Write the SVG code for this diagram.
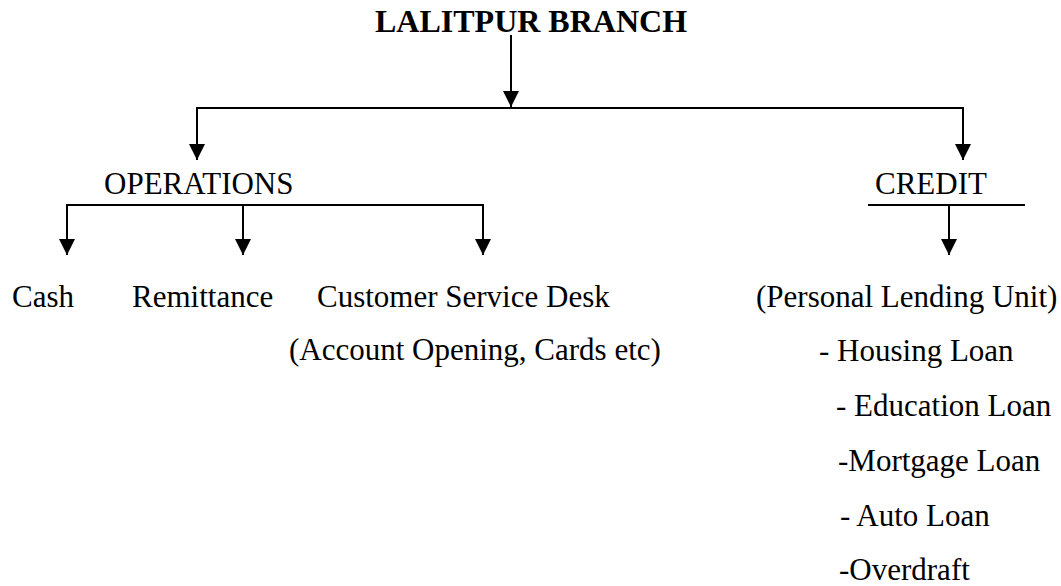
<svg xmlns="http://www.w3.org/2000/svg" width="1061" height="586" viewBox="0 0 1061 586">
<style>
text{font-family:"Liberation Serif","Times New Roman",serif;font-size:31px;fill:#000}
.title{font-weight:bold;font-size:32px}
.ln{stroke:#000;stroke-width:2;fill:none}
</style>
<defs>
<marker id="ah" markerUnits="userSpaceOnUse" markerWidth="16" markerHeight="16" refX="15" refY="7.5" orient="auto" viewBox="0 0 15 15">
<path d="M0,0 L15,7.5 L0,15 z" fill="#000"/>
</marker>
</defs>
<rect width="1061" height="586" fill="#fff"/>
<g id="connectors">
<line class="ln" x1="511" y1="35" x2="511" y2="107" marker-end="url(#ah)"/>
<line class="ln" x1="196" y1="108" x2="964" y2="108"/>
<line class="ln" x1="197" y1="108" x2="197" y2="160" marker-end="url(#ah)"/>
<line class="ln" x1="963" y1="108" x2="963" y2="160" marker-end="url(#ah)"/>
<line class="ln" x1="66" y1="205" x2="484" y2="205"/>
<line class="ln" x1="67" y1="205" x2="67" y2="255" marker-end="url(#ah)"/>
<line class="ln" x1="243" y1="205" x2="243" y2="255" marker-end="url(#ah)"/>
<line class="ln" x1="483" y1="205" x2="483" y2="255" marker-end="url(#ah)"/>
<line class="ln" x1="868" y1="205" x2="1025" y2="205"/>
<line class="ln" x1="949" y1="205" x2="949" y2="255" marker-end="url(#ah)"/>
</g>
<g id="branch"><text class="title" x="375" y="32">LALITPUR BRANCH</text></g>
<g id="operations"><text x="104" y="194">OPERATIONS</text></g>
<g id="credit"><text x="875" y="194">CREDIT</text></g>
<g id="cash"><text x="12" y="307">Cash</text></g>
<g id="remittance"><text x="132" y="307">Remittance</text></g>
<g id="customer-service"><text x="317" y="307">Customer Service Desk</text><text x="289" y="360">(Account Opening, Cards etc)</text></g>
<g id="personal-lending">
<text x="756" y="307">(Personal Lending Unit)</text>
<text x="819" y="361">- Housing Loan</text>
<text x="836" y="416">- Education Loan</text>
<text x="838" y="471">-Mortgage Loan</text>
<text x="840" y="526">- Auto Loan</text>
<text x="839" y="580">-Overdraft</text>
</g>
</svg>
